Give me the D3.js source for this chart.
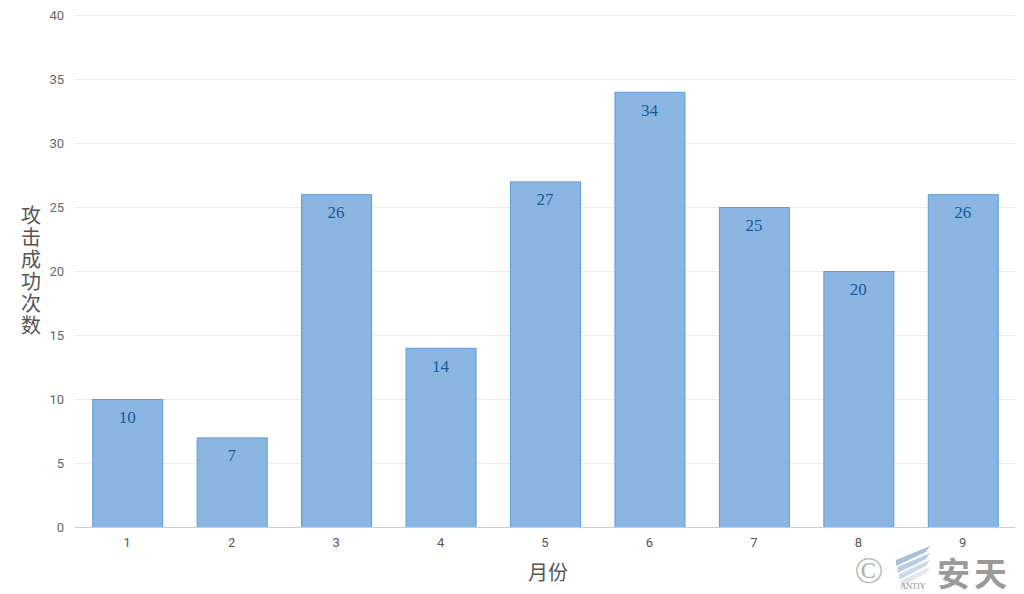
<!DOCTYPE html>
<html><head><meta charset="utf-8">
<script src="https://cdn.jsdelivr.net/npm/d3@7"></script>
<style>body{margin:0;background:#fff;}svg{display:block;}</style>
</head><body>
<script>
const months = ["1","2","3","4","5","6","7","8","9"];
const values = [10,7,26,14,27,34,25,20,26];
const yTicks = [0,5,10,15,20,25,30,35,40];
const yTitle = "攻击成功次数";
const xTitle = "月份";

(function(){
const W=1024,H=594;
const svg=d3.select("body").append("svg").attr("width",W).attr("height",H);
const pL=75,pR=1015,pT=15,pB=527;
const x=d3.scaleBand().domain(months).range([pL,pR]).paddingInner(0.33).paddingOuter(0.165);
const y=d3.scaleLinear().domain([0,40]).range([pB,pT]);

// grid
svg.append("g").selectAll("line").data(yTicks.filter(d=>d>0)).join("line")
 .attr("x1",pL).attr("x2",pR).attr("y1",d=>y(d)+0.5).attr("y2",d=>y(d)+0.5)
 .attr("stroke","#ebebeb").attr("stroke-width",1);

// y axis labels
const ya=svg.append("g").attr("transform",`translate(${pL},0)`)
 .call(d3.axisLeft(y).tickValues(yTicks).tickSize(0).tickPadding(11));
ya.select(".domain").remove();
ya.selectAll("text").attr("font-family","Roboto, 'Noto Sans', sans-serif").attr("font-size",13).attr("fill","#666");

// bars
svg.append("g").selectAll("rect").data(values).join("rect")
 .attr("x",(d,i)=>x(months[i])+0.5).attr("y",d=>y(d)+0.5)
 .attr("width",x.bandwidth()).attr("height",d=>y(0)-y(d))
 .attr("fill","#8bb6e1").attr("stroke","#5b9bd8").attr("stroke-width",1);

// bar labels
svg.append("g").selectAll("text").data(values).join("text")
 .attr("x",(d,i)=>x(months[i])+x.bandwidth()/2).attr("y",d=>y(d)+24)
 .attr("text-anchor","middle").attr("font-family","'Liberation Serif', serif")
 .attr("font-size",17).attr("fill","#175a9c").text(d=>d);

// x axis
const xa=svg.append("g").attr("transform",`translate(0,${pB})`)
 .call(d3.axisBottom(x).tickSize(0).tickPadding(11));
xa.select(".domain").attr("stroke","#cccccc").attr("d",`M${pL},0.5H${pR}`);
xa.selectAll("text").attr("font-family","Roboto, 'Noto Sans', sans-serif").attr("font-size",13).attr("fill","#555");

// axis titles
svg.append("text").attr("x",548).attr("y",580).attr("text-anchor","middle")
 .attr("font-family","'Noto Sans CJK SC', sans-serif").attr("font-size",20).attr("fill","#555").text(xTitle);
svg.append("text").attr("x",31).attr("y",271)
 .attr("font-family","'Noto Sans CJK SC', sans-serif").attr("font-size",20)
 .attr("fill","#555").attr("text-anchor","middle")
 .style("writing-mode","vertical-rl").attr("letter-spacing",2).text(yTitle);

// watermark
const wm=svg.append("g");
wm.append("text").attr("x",869).attr("y",583).attr("text-anchor","middle").attr("font-family","'Liberation Serif', serif").attr("font-size",38).attr("fill","#b3b3b3").text("©");
[0,1,2,3].forEach(i=>{
  const yo=i*7;
  wm.append("path").attr("d",`M${896+i*1.5},${552+yo+8} L${930},${546+yo} L${926},${552+yo} L${896+i*1.5},${558+yo+8} Z`)
   .attr("fill",["#a9bfda","#bccde3","#cdd9ea","#dde6f1"][i]);
});
wm.append("text").attr("x",913).attr("y",589).attr("text-anchor","middle").attr("font-family","'Liberation Serif', serif").attr("font-size",8).attr("fill","#888").text("ANTIY");
wm.append("text").attr("x",937).attr("y",586).attr("font-family","'Noto Sans CJK SC', sans-serif").attr("font-weight","bold").attr("font-size",33).attr("fill","#9a9a9a").attr("letter-spacing",4).text("安天");
})();
</script>
</body></html>
